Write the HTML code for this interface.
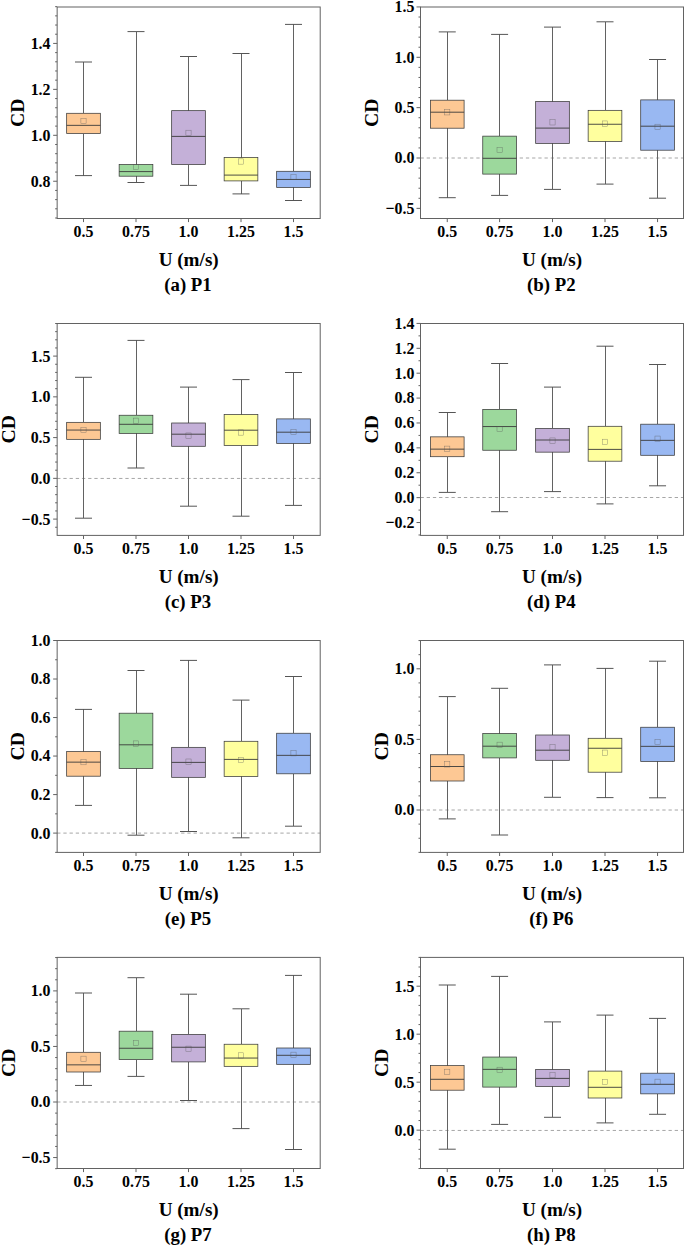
<!DOCTYPE html>
<html><head><meta charset="utf-8"><title>CD box plots</title>
<style>
html,body{margin:0;padding:0;background:#fff;}
svg{display:block;}
text{font-family:"Liberation Serif",serif;font-weight:bold;fill:#000;}
.tk{font-size:15.9px;}
.ax{font-size:19.15px;}
.cp{font-size:18.8px;}
.cd{font-size:18.9px;}
</style></head><body>
<svg width="685" height="1247" viewBox="0 0 685 1247">
<rect x="0" y="0" width="685" height="1247" fill="#ffffff"/>
<g>
<path d="M83.5 62V113.3M83.5 133.5V175.6" stroke="#626262" stroke-width="1" fill="none" shape-rendering="crispEdges"/>
<path d="M75 62H92M75 175.6H92" stroke="#555555" stroke-width="1" fill="none"/>
<rect x="66.65" y="113.3" width="33.7" height="20.2" fill="#FDC894" stroke="#3a3a3a" stroke-width="0.75"/>
<line x1="66.65" y1="125.35" x2="100.35" y2="125.35" stroke="#3a3a3a" stroke-width="0.9"/>
<rect x="80.9" y="118.4" width="5.2" height="5.3" fill="none" stroke="#555" stroke-opacity="0.7" stroke-width="0.45"/>
<path d="M136 31.6V164.5M136 176.2V182.5" stroke="#626262" stroke-width="1" fill="none" shape-rendering="crispEdges"/>
<path d="M127.5 31.6H144.5M127.5 182.5H144.5" stroke="#555555" stroke-width="1" fill="none"/>
<rect x="119.15" y="164.5" width="33.7" height="11.7" fill="#9CD89C" stroke="#3a3a3a" stroke-width="0.75"/>
<line x1="119.15" y1="171.6" x2="152.85" y2="171.6" stroke="#3a3a3a" stroke-width="0.9"/>
<rect x="133.4" y="164.35" width="5.2" height="5.3" fill="none" stroke="#555" stroke-opacity="0.7" stroke-width="0.45"/>
<path d="M188.5 56.5V110.65M188.5 164.5V185.4" stroke="#626262" stroke-width="1" fill="none" shape-rendering="crispEdges"/>
<path d="M180 56.5H197M180 185.4H197" stroke="#555555" stroke-width="1" fill="none"/>
<rect x="171.65" y="110.65" width="33.7" height="53.85" fill="#C4B0D8" stroke="#3a3a3a" stroke-width="0.75"/>
<line x1="171.65" y1="136.4" x2="205.35" y2="136.4" stroke="#3a3a3a" stroke-width="0.9"/>
<rect x="185.9" y="130.2" width="5.2" height="5.3" fill="none" stroke="#555" stroke-opacity="0.7" stroke-width="0.45"/>
<path d="M241 53.5V157.5M241 180.9V193.9" stroke="#626262" stroke-width="1" fill="none" shape-rendering="crispEdges"/>
<path d="M232.5 53.5H249.5M232.5 193.9H249.5" stroke="#555555" stroke-width="1" fill="none"/>
<rect x="224.15" y="157.5" width="33.7" height="23.4" fill="#FFFF9E" stroke="#3a3a3a" stroke-width="0.75"/>
<line x1="224.15" y1="175.1" x2="257.85" y2="175.1" stroke="#3a3a3a" stroke-width="0.9"/>
<rect x="238.4" y="158.85" width="5.2" height="5.3" fill="none" stroke="#555" stroke-opacity="0.7" stroke-width="0.45"/>
<path d="M293.5 24.4V171.3M293.5 187.4V200.5" stroke="#626262" stroke-width="1" fill="none" shape-rendering="crispEdges"/>
<path d="M285 24.4H302M285 200.5H302" stroke="#555555" stroke-width="1" fill="none"/>
<rect x="276.65" y="171.3" width="33.7" height="16.1" fill="#99B8F2" stroke="#3a3a3a" stroke-width="0.75"/>
<line x1="276.65" y1="179.45" x2="310.35" y2="179.45" stroke="#3a3a3a" stroke-width="0.9"/>
<rect x="290.9" y="174.45" width="5.2" height="5.3" fill="none" stroke="#555" stroke-opacity="0.7" stroke-width="0.45"/>
<rect x="57.15" y="7" width="263.05" height="211.5" fill="none" stroke="#626262" stroke-width="1"/>
<path d="M57.15 217.99h-2M57.15 208.8h-2M57.15 199.62h-2M57.15 190.43h-2M57.15 181.24h-4M57.15 172.05h-2M57.15 162.86h-2M57.15 153.68h-2M57.15 144.49h-2M57.15 135.3h-4M57.15 126.11h-2M57.15 116.92h-2M57.15 107.74h-2M57.15 98.55h-2M57.15 89.36h-4M57.15 80.17h-2M57.15 70.98h-2M57.15 61.8h-2M57.15 52.61h-2M57.15 43.42h-4M57.15 34.23h-2M57.15 25.04h-2M57.15 15.86h-2M57.15 6.67h-2" stroke="#626262" stroke-width="1" fill="none"/>
<path d="M83.5 218.5v3.6M136 218.5v3.6M188.5 218.5v3.6M241 218.5v3.6M293.5 218.5v3.6" stroke="#626262" stroke-width="1" fill="none"/>
<text class="tk" transform="translate(50.5 186.64) scale(1 1.07)" text-anchor="end">0.8</text>
<text class="tk" transform="translate(50.5 140.7) scale(1 1.07)" text-anchor="end">1.0</text>
<text class="tk" transform="translate(50.5 94.76) scale(1 1.07)" text-anchor="end">1.2</text>
<text class="tk" transform="translate(50.5 48.82) scale(1 1.07)" text-anchor="end">1.4</text>
<text class="tk" transform="translate(83.5 237.35) scale(1 1.07)" text-anchor="middle">0.5</text>
<text class="tk" transform="translate(136 237.35) scale(1 1.07)" text-anchor="middle">0.75</text>
<text class="tk" transform="translate(188.5 237.35) scale(1 1.07)" text-anchor="middle">1.0</text>
<text class="tk" transform="translate(241 237.35) scale(1 1.07)" text-anchor="middle">1.25</text>
<text class="tk" transform="translate(293.5 237.35) scale(1 1.07)" text-anchor="middle">1.5</text>
<text class="ax" transform="translate(188.67 266.3) scale(1 1.02)" text-anchor="middle">U (m/s)</text>
<text class="cp" transform="translate(187.97 291.3) scale(1 0.99)" text-anchor="middle">(a) P1</text>
<text class="cd" transform="translate(24.1 112.65) scale(1 1.045) rotate(-90)" text-anchor="middle">CD</text>
</g>
<g>
<line x1="420.5" y1="158" x2="683.5" y2="158" stroke="#a6a6a6" stroke-width="1" stroke-dasharray="3.3 2.9"/>
<path d="M447.25 31.9V100.2M447.25 128.2V197.7" stroke="#626262" stroke-width="1" fill="none" shape-rendering="crispEdges"/>
<path d="M438.75 31.9H455.75M438.75 197.7H455.75" stroke="#555555" stroke-width="1" fill="none"/>
<rect x="430.4" y="100.2" width="33.7" height="28" fill="#FDC894" stroke="#3a3a3a" stroke-width="0.75"/>
<line x1="430.4" y1="112.2" x2="464.1" y2="112.2" stroke="#3a3a3a" stroke-width="0.9"/>
<rect x="444.65" y="109.65" width="5.2" height="5.3" fill="none" stroke="#555" stroke-opacity="0.7" stroke-width="0.45"/>
<path d="M499.6 34.4V136.15M499.6 174.1V195.4" stroke="#626262" stroke-width="1" fill="none" shape-rendering="crispEdges"/>
<path d="M491.1 34.4H508.1M491.1 195.4H508.1" stroke="#555555" stroke-width="1" fill="none"/>
<rect x="482.75" y="136.15" width="33.7" height="37.95" fill="#9CD89C" stroke="#3a3a3a" stroke-width="0.75"/>
<line x1="482.75" y1="158.3" x2="516.45" y2="158.3" stroke="#3a3a3a" stroke-width="0.9"/>
<rect x="497" y="147.3" width="5.2" height="5.3" fill="none" stroke="#555" stroke-opacity="0.7" stroke-width="0.45"/>
<path d="M552.5 27.1V101.5M552.5 143.4V189.4" stroke="#626262" stroke-width="1" fill="none" shape-rendering="crispEdges"/>
<path d="M544 27.1H561M544 189.4H561" stroke="#555555" stroke-width="1" fill="none"/>
<rect x="535.65" y="101.5" width="33.7" height="41.9" fill="#C4B0D8" stroke="#3a3a3a" stroke-width="0.75"/>
<line x1="535.65" y1="128.1" x2="569.35" y2="128.1" stroke="#3a3a3a" stroke-width="0.9"/>
<rect x="549.9" y="119.7" width="5.2" height="5.3" fill="none" stroke="#555" stroke-opacity="0.7" stroke-width="0.45"/>
<path d="M605 21.8V110.35M605 141.4V184.1" stroke="#626262" stroke-width="1" fill="none" shape-rendering="crispEdges"/>
<path d="M596.5 21.8H613.5M596.5 184.1H613.5" stroke="#555555" stroke-width="1" fill="none"/>
<rect x="588.15" y="110.35" width="33.7" height="31.05" fill="#FFFF9E" stroke="#3a3a3a" stroke-width="0.75"/>
<line x1="588.15" y1="124.25" x2="621.85" y2="124.25" stroke="#3a3a3a" stroke-width="0.9"/>
<rect x="602.4" y="120.95" width="5.2" height="5.3" fill="none" stroke="#555" stroke-opacity="0.7" stroke-width="0.45"/>
<path d="M657.55 59.5V99.9M657.55 150.2V198.2" stroke="#626262" stroke-width="1" fill="none" shape-rendering="crispEdges"/>
<path d="M649.05 59.5H666.05M649.05 198.2H666.05" stroke="#555555" stroke-width="1" fill="none"/>
<rect x="640.7" y="99.9" width="33.7" height="50.3" fill="#99B8F2" stroke="#3a3a3a" stroke-width="0.75"/>
<line x1="640.7" y1="126.2" x2="674.4" y2="126.2" stroke="#3a3a3a" stroke-width="0.9"/>
<rect x="654.95" y="124.2" width="5.2" height="5.3" fill="none" stroke="#555" stroke-opacity="0.7" stroke-width="0.45"/>
<rect x="420.5" y="7" width="263" height="211.5" fill="none" stroke="#626262" stroke-width="1"/>
<path d="M420.5 208.35h-4M420.5 198.28h-2M420.5 188.21h-2M420.5 178.14h-2M420.5 168.07h-2M420.5 158h-4M420.5 147.93h-2M420.5 137.86h-2M420.5 127.79h-2M420.5 117.72h-2M420.5 107.65h-4M420.5 97.58h-2M420.5 87.51h-2M420.5 77.44h-2M420.5 67.37h-2M420.5 57.3h-4M420.5 47.23h-2M420.5 37.16h-2M420.5 27.09h-2M420.5 17.02h-2M420.5 6.95h-4" stroke="#626262" stroke-width="1" fill="none"/>
<path d="M447.25 218.5v3.6M499.6 218.5v3.6M552.5 218.5v3.6M605 218.5v3.6M657.55 218.5v3.6" stroke="#626262" stroke-width="1" fill="none"/>
<text class="tk" transform="translate(414.35 213.75) scale(1 1.07)" text-anchor="end">−0.5</text>
<text class="tk" transform="translate(414.35 163.4) scale(1 1.07)" text-anchor="end">0.0</text>
<text class="tk" transform="translate(414.35 113.05) scale(1 1.07)" text-anchor="end">0.5</text>
<text class="tk" transform="translate(414.35 62.7) scale(1 1.07)" text-anchor="end">1.0</text>
<text class="tk" transform="translate(414.35 12.35) scale(1 1.07)" text-anchor="end">1.5</text>
<text class="tk" transform="translate(447.25 237.35) scale(1 1.07)" text-anchor="middle">0.5</text>
<text class="tk" transform="translate(499.6 237.35) scale(1 1.07)" text-anchor="middle">0.75</text>
<text class="tk" transform="translate(552.5 237.35) scale(1 1.07)" text-anchor="middle">1.0</text>
<text class="tk" transform="translate(605 237.35) scale(1 1.07)" text-anchor="middle">1.25</text>
<text class="tk" transform="translate(657.55 237.35) scale(1 1.07)" text-anchor="middle">1.5</text>
<text class="ax" transform="translate(552 266.3) scale(1 1.02)" text-anchor="middle">U (m/s)</text>
<text class="cp" transform="translate(551.3 291.3) scale(1 0.99)" text-anchor="middle">(b) P2</text>
<text class="cd" transform="translate(378.3 112.65) scale(1 1.045) rotate(-90)" text-anchor="middle">CD</text>
</g>
<g>
<line x1="57.15" y1="478.45" x2="320.2" y2="478.45" stroke="#a6a6a6" stroke-width="1" stroke-dasharray="3.3 2.9"/>
<path d="M83.5 377.3V422.35M83.5 439.35V518.2" stroke="#626262" stroke-width="1" fill="none" shape-rendering="crispEdges"/>
<path d="M75 377.3H92M75 518.2H92" stroke="#555555" stroke-width="1" fill="none"/>
<rect x="66.65" y="422.35" width="33.7" height="17" fill="#FDC894" stroke="#3a3a3a" stroke-width="0.75"/>
<line x1="66.65" y1="430.05" x2="100.35" y2="430.05" stroke="#3a3a3a" stroke-width="0.9"/>
<rect x="80.9" y="427.35" width="5.2" height="5.3" fill="none" stroke="#555" stroke-opacity="0.7" stroke-width="0.45"/>
<path d="M136 340.4V415.25M136 433.4V468" stroke="#626262" stroke-width="1" fill="none" shape-rendering="crispEdges"/>
<path d="M127.5 340.4H144.5M127.5 468H144.5" stroke="#555555" stroke-width="1" fill="none"/>
<rect x="119.15" y="415.25" width="33.7" height="18.15" fill="#9CD89C" stroke="#3a3a3a" stroke-width="0.75"/>
<line x1="119.15" y1="424.3" x2="152.85" y2="424.3" stroke="#3a3a3a" stroke-width="0.9"/>
<rect x="133.4" y="418.1" width="5.2" height="5.3" fill="none" stroke="#555" stroke-opacity="0.7" stroke-width="0.45"/>
<path d="M188.5 387.1V423M188.5 446.3V506.2" stroke="#626262" stroke-width="1" fill="none" shape-rendering="crispEdges"/>
<path d="M180 387.1H197M180 506.2H197" stroke="#555555" stroke-width="1" fill="none"/>
<rect x="171.65" y="423" width="33.7" height="23.3" fill="#C4B0D8" stroke="#3a3a3a" stroke-width="0.75"/>
<line x1="171.65" y1="434.2" x2="205.35" y2="434.2" stroke="#3a3a3a" stroke-width="0.9"/>
<rect x="185.9" y="432.95" width="5.2" height="5.3" fill="none" stroke="#555" stroke-opacity="0.7" stroke-width="0.45"/>
<path d="M241 379.6V414.5M241 445.5V516.2" stroke="#626262" stroke-width="1" fill="none" shape-rendering="crispEdges"/>
<path d="M232.5 379.6H249.5M232.5 516.2H249.5" stroke="#555555" stroke-width="1" fill="none"/>
<rect x="224.15" y="414.5" width="33.7" height="31" fill="#FFFF9E" stroke="#3a3a3a" stroke-width="0.75"/>
<line x1="224.15" y1="430.2" x2="257.85" y2="430.2" stroke="#3a3a3a" stroke-width="0.9"/>
<rect x="238.4" y="429.85" width="5.2" height="5.3" fill="none" stroke="#555" stroke-opacity="0.7" stroke-width="0.45"/>
<path d="M293.5 372.5V418.9M293.5 443.45V505.4" stroke="#626262" stroke-width="1" fill="none" shape-rendering="crispEdges"/>
<path d="M285 372.5H302M285 505.4H302" stroke="#555555" stroke-width="1" fill="none"/>
<rect x="276.65" y="418.9" width="33.7" height="24.55" fill="#99B8F2" stroke="#3a3a3a" stroke-width="0.75"/>
<line x1="276.65" y1="432.2" x2="310.35" y2="432.2" stroke="#3a3a3a" stroke-width="0.9"/>
<rect x="290.9" y="429.35" width="5.2" height="5.3" fill="none" stroke="#555" stroke-opacity="0.7" stroke-width="0.45"/>
<rect x="57.15" y="323.5" width="263.05" height="211.9" fill="none" stroke="#626262" stroke-width="1"/>
<path d="M57.15 527.25h-2M57.15 519.1h-4M57.15 510.95h-2M57.15 502.8h-2M57.15 494.65h-2M57.15 486.5h-2M57.15 478.35h-4M57.15 470.2h-2M57.15 462.05h-2M57.15 453.9h-2M57.15 445.75h-2M57.15 437.6h-4M57.15 429.45h-2M57.15 421.3h-2M57.15 413.15h-2M57.15 405h-2M57.15 396.85h-4M57.15 388.7h-2M57.15 380.55h-2M57.15 372.4h-2M57.15 364.25h-2M57.15 356.1h-4M57.15 347.95h-2M57.15 339.8h-2M57.15 331.65h-2M57.15 323.5h-2" stroke="#626262" stroke-width="1" fill="none"/>
<path d="M83.5 535.4v3.6M136 535.4v3.6M188.5 535.4v3.6M241 535.4v3.6M293.5 535.4v3.6" stroke="#626262" stroke-width="1" fill="none"/>
<text class="tk" transform="translate(50.5 524.5) scale(1 1.07)" text-anchor="end">−0.5</text>
<text class="tk" transform="translate(50.5 483.75) scale(1 1.07)" text-anchor="end">0.0</text>
<text class="tk" transform="translate(50.5 443) scale(1 1.07)" text-anchor="end">0.5</text>
<text class="tk" transform="translate(50.5 402.25) scale(1 1.07)" text-anchor="end">1.0</text>
<text class="tk" transform="translate(50.5 361.5) scale(1 1.07)" text-anchor="end">1.5</text>
<text class="tk" transform="translate(83.5 554.25) scale(1 1.07)" text-anchor="middle">0.5</text>
<text class="tk" transform="translate(136 554.25) scale(1 1.07)" text-anchor="middle">0.75</text>
<text class="tk" transform="translate(188.5 554.25) scale(1 1.07)" text-anchor="middle">1.0</text>
<text class="tk" transform="translate(241 554.25) scale(1 1.07)" text-anchor="middle">1.25</text>
<text class="tk" transform="translate(293.5 554.25) scale(1 1.07)" text-anchor="middle">1.5</text>
<text class="ax" transform="translate(188.67 583.2) scale(1 1.02)" text-anchor="middle">U (m/s)</text>
<text class="cp" transform="translate(187.97 608.2) scale(1 0.99)" text-anchor="middle">(c) P3</text>
<text class="cd" transform="translate(14.7 429.35) scale(1 1.045) rotate(-90)" text-anchor="middle">CD</text>
</g>
<g>
<line x1="420.5" y1="497.5" x2="683.5" y2="497.5" stroke="#a6a6a6" stroke-width="1" stroke-dasharray="3.3 2.9"/>
<path d="M447.25 412.5V436.85M447.25 456.7V492.4" stroke="#626262" stroke-width="1" fill="none" shape-rendering="crispEdges"/>
<path d="M438.75 412.5H455.75M438.75 492.4H455.75" stroke="#555555" stroke-width="1" fill="none"/>
<rect x="430.4" y="436.85" width="33.7" height="19.85" fill="#FDC894" stroke="#3a3a3a" stroke-width="0.75"/>
<line x1="430.4" y1="449.15" x2="464.1" y2="449.15" stroke="#3a3a3a" stroke-width="0.9"/>
<rect x="444.65" y="446.1" width="5.2" height="5.3" fill="none" stroke="#555" stroke-opacity="0.7" stroke-width="0.45"/>
<path d="M499.6 363.5V409.4M499.6 450.25V511.7" stroke="#626262" stroke-width="1" fill="none" shape-rendering="crispEdges"/>
<path d="M491.1 363.5H508.1M491.1 511.7H508.1" stroke="#555555" stroke-width="1" fill="none"/>
<rect x="482.75" y="409.4" width="33.7" height="40.85" fill="#9CD89C" stroke="#3a3a3a" stroke-width="0.75"/>
<line x1="482.75" y1="426.55" x2="516.45" y2="426.55" stroke="#3a3a3a" stroke-width="0.9"/>
<rect x="497" y="426.4" width="5.2" height="5.3" fill="none" stroke="#555" stroke-opacity="0.7" stroke-width="0.45"/>
<path d="M552.5 387.1V428.45M552.5 452.15V491.6" stroke="#626262" stroke-width="1" fill="none" shape-rendering="crispEdges"/>
<path d="M544 387.1H561M544 491.6H561" stroke="#555555" stroke-width="1" fill="none"/>
<rect x="535.65" y="428.45" width="33.7" height="23.7" fill="#C4B0D8" stroke="#3a3a3a" stroke-width="0.75"/>
<line x1="535.65" y1="440" x2="569.35" y2="440" stroke="#3a3a3a" stroke-width="0.9"/>
<rect x="549.9" y="437.95" width="5.2" height="5.3" fill="none" stroke="#555" stroke-opacity="0.7" stroke-width="0.45"/>
<path d="M605 346.2V426.3M605 461.2V503.9" stroke="#626262" stroke-width="1" fill="none" shape-rendering="crispEdges"/>
<path d="M596.5 346.2H613.5M596.5 503.9H613.5" stroke="#555555" stroke-width="1" fill="none"/>
<rect x="588.15" y="426.3" width="33.7" height="34.9" fill="#FFFF9E" stroke="#3a3a3a" stroke-width="0.75"/>
<line x1="588.15" y1="449.4" x2="621.85" y2="449.4" stroke="#3a3a3a" stroke-width="0.9"/>
<rect x="602.4" y="439.2" width="5.2" height="5.3" fill="none" stroke="#555" stroke-opacity="0.7" stroke-width="0.45"/>
<path d="M657.55 364.5V424.2M657.55 455.3V485.8" stroke="#626262" stroke-width="1" fill="none" shape-rendering="crispEdges"/>
<path d="M649.05 364.5H666.05M649.05 485.8H666.05" stroke="#555555" stroke-width="1" fill="none"/>
<rect x="640.7" y="424.2" width="33.7" height="31.1" fill="#99B8F2" stroke="#3a3a3a" stroke-width="0.75"/>
<line x1="640.7" y1="440.35" x2="674.4" y2="440.35" stroke="#3a3a3a" stroke-width="0.9"/>
<rect x="654.95" y="436.05" width="5.2" height="5.3" fill="none" stroke="#555" stroke-opacity="0.7" stroke-width="0.45"/>
<rect x="420.5" y="323.5" width="263" height="211.9" fill="none" stroke="#626262" stroke-width="1"/>
<path d="M420.5 534.99h-2M420.5 522.54h-4M420.5 510.09h-2M420.5 497.65h-4M420.5 485.2h-2M420.5 472.76h-4M420.5 460.31h-2M420.5 447.87h-4M420.5 435.42h-2M420.5 422.98h-4M420.5 410.53h-2M420.5 398.09h-4M420.5 385.64h-2M420.5 373.2h-4M420.5 360.75h-2M420.5 348.31h-4M420.5 335.87h-2M420.5 323.42h-4" stroke="#626262" stroke-width="1" fill="none"/>
<path d="M447.25 535.4v3.6M499.6 535.4v3.6M552.5 535.4v3.6M605 535.4v3.6M657.55 535.4v3.6" stroke="#626262" stroke-width="1" fill="none"/>
<text class="tk" transform="translate(414.35 527.94) scale(1 1.07)" text-anchor="end">−0.2</text>
<text class="tk" transform="translate(414.35 503.05) scale(1 1.07)" text-anchor="end">0.0</text>
<text class="tk" transform="translate(414.35 478.16) scale(1 1.07)" text-anchor="end">0.2</text>
<text class="tk" transform="translate(414.35 453.27) scale(1 1.07)" text-anchor="end">0.4</text>
<text class="tk" transform="translate(414.35 428.38) scale(1 1.07)" text-anchor="end">0.6</text>
<text class="tk" transform="translate(414.35 403.49) scale(1 1.07)" text-anchor="end">0.8</text>
<text class="tk" transform="translate(414.35 378.6) scale(1 1.07)" text-anchor="end">1.0</text>
<text class="tk" transform="translate(414.35 353.71) scale(1 1.07)" text-anchor="end">1.2</text>
<text class="tk" transform="translate(414.35 328.82) scale(1 1.07)" text-anchor="end">1.4</text>
<text class="tk" transform="translate(447.25 554.25) scale(1 1.07)" text-anchor="middle">0.5</text>
<text class="tk" transform="translate(499.6 554.25) scale(1 1.07)" text-anchor="middle">0.75</text>
<text class="tk" transform="translate(552.5 554.25) scale(1 1.07)" text-anchor="middle">1.0</text>
<text class="tk" transform="translate(605 554.25) scale(1 1.07)" text-anchor="middle">1.25</text>
<text class="tk" transform="translate(657.55 554.25) scale(1 1.07)" text-anchor="middle">1.5</text>
<text class="ax" transform="translate(552 583.2) scale(1 1.02)" text-anchor="middle">U (m/s)</text>
<text class="cp" transform="translate(551.3 608.2) scale(1 0.99)" text-anchor="middle">(d) P4</text>
<text class="cd" transform="translate(378.3 429.35) scale(1 1.045) rotate(-90)" text-anchor="middle">CD</text>
</g>
<g>
<line x1="57.15" y1="833.1" x2="320.2" y2="833.1" stroke="#a6a6a6" stroke-width="1" stroke-dasharray="3.3 2.9"/>
<path d="M83.5 709.4V751.5M83.5 776.2V805.4" stroke="#626262" stroke-width="1" fill="none" shape-rendering="crispEdges"/>
<path d="M75 709.4H92M75 805.4H92" stroke="#555555" stroke-width="1" fill="none"/>
<rect x="66.65" y="751.5" width="33.7" height="24.7" fill="#FDC894" stroke="#3a3a3a" stroke-width="0.75"/>
<line x1="66.65" y1="762.15" x2="100.35" y2="762.15" stroke="#3a3a3a" stroke-width="0.9"/>
<rect x="80.9" y="759.5" width="5.2" height="5.3" fill="none" stroke="#555" stroke-opacity="0.7" stroke-width="0.45"/>
<path d="M136 670.5V713.2M136 768.4V835.2" stroke="#626262" stroke-width="1" fill="none" shape-rendering="crispEdges"/>
<path d="M127.5 670.5H144.5M127.5 835.2H144.5" stroke="#555555" stroke-width="1" fill="none"/>
<rect x="119.15" y="713.2" width="33.7" height="55.2" fill="#9CD89C" stroke="#3a3a3a" stroke-width="0.75"/>
<line x1="119.15" y1="744.8" x2="152.85" y2="744.8" stroke="#3a3a3a" stroke-width="0.9"/>
<rect x="133.4" y="740.9" width="5.2" height="5.3" fill="none" stroke="#555" stroke-opacity="0.7" stroke-width="0.45"/>
<path d="M188.5 660.4V747.35M188.5 777.35V831.5" stroke="#626262" stroke-width="1" fill="none" shape-rendering="crispEdges"/>
<path d="M180 660.4H197M180 831.5H197" stroke="#555555" stroke-width="1" fill="none"/>
<rect x="171.65" y="747.35" width="33.7" height="30" fill="#C4B0D8" stroke="#3a3a3a" stroke-width="0.75"/>
<line x1="171.65" y1="762.4" x2="205.35" y2="762.4" stroke="#3a3a3a" stroke-width="0.9"/>
<rect x="185.9" y="759" width="5.2" height="5.3" fill="none" stroke="#555" stroke-opacity="0.7" stroke-width="0.45"/>
<path d="M241 700.1V741.3M241 776.45V837.8" stroke="#626262" stroke-width="1" fill="none" shape-rendering="crispEdges"/>
<path d="M232.5 700.1H249.5M232.5 837.8H249.5" stroke="#555555" stroke-width="1" fill="none"/>
<rect x="224.15" y="741.3" width="33.7" height="35.15" fill="#FFFF9E" stroke="#3a3a3a" stroke-width="0.75"/>
<line x1="224.15" y1="759.4" x2="257.85" y2="759.4" stroke="#3a3a3a" stroke-width="0.9"/>
<rect x="238.4" y="757.25" width="5.2" height="5.3" fill="none" stroke="#555" stroke-opacity="0.7" stroke-width="0.45"/>
<path d="M293.5 676.5V733.25M293.5 773.8V826.2" stroke="#626262" stroke-width="1" fill="none" shape-rendering="crispEdges"/>
<path d="M285 676.5H302M285 826.2H302" stroke="#555555" stroke-width="1" fill="none"/>
<rect x="276.65" y="733.25" width="33.7" height="40.55" fill="#99B8F2" stroke="#3a3a3a" stroke-width="0.75"/>
<line x1="276.65" y1="755.35" x2="310.35" y2="755.35" stroke="#3a3a3a" stroke-width="0.9"/>
<rect x="290.9" y="750.6" width="5.2" height="5.3" fill="none" stroke="#555" stroke-opacity="0.7" stroke-width="0.45"/>
<rect x="57.15" y="640.5" width="263.05" height="211.9" fill="none" stroke="#626262" stroke-width="1"/>
<path d="M57.15 852.36h-2M57.15 833.1h-4M57.15 813.84h-2M57.15 794.58h-4M57.15 775.32h-2M57.15 756.06h-4M57.15 736.8h-2M57.15 717.54h-4M57.15 698.28h-2M57.15 679.02h-4M57.15 659.76h-2M57.15 640.5h-4" stroke="#626262" stroke-width="1" fill="none"/>
<path d="M83.5 852.4v3.6M136 852.4v3.6M188.5 852.4v3.6M241 852.4v3.6M293.5 852.4v3.6" stroke="#626262" stroke-width="1" fill="none"/>
<text class="tk" transform="translate(50.5 838.5) scale(1 1.07)" text-anchor="end">0.0</text>
<text class="tk" transform="translate(50.5 799.98) scale(1 1.07)" text-anchor="end">0.2</text>
<text class="tk" transform="translate(50.5 761.46) scale(1 1.07)" text-anchor="end">0.4</text>
<text class="tk" transform="translate(50.5 722.94) scale(1 1.07)" text-anchor="end">0.6</text>
<text class="tk" transform="translate(50.5 684.42) scale(1 1.07)" text-anchor="end">0.8</text>
<text class="tk" transform="translate(50.5 645.9) scale(1 1.07)" text-anchor="end">1.0</text>
<text class="tk" transform="translate(83.5 871.25) scale(1 1.07)" text-anchor="middle">0.5</text>
<text class="tk" transform="translate(136 871.25) scale(1 1.07)" text-anchor="middle">0.75</text>
<text class="tk" transform="translate(188.5 871.25) scale(1 1.07)" text-anchor="middle">1.0</text>
<text class="tk" transform="translate(241 871.25) scale(1 1.07)" text-anchor="middle">1.25</text>
<text class="tk" transform="translate(293.5 871.25) scale(1 1.07)" text-anchor="middle">1.5</text>
<text class="ax" transform="translate(188.67 900.2) scale(1 1.02)" text-anchor="middle">U (m/s)</text>
<text class="cp" transform="translate(187.97 925.2) scale(1 0.99)" text-anchor="middle">(e) P5</text>
<text class="cd" transform="translate(24.1 746.35) scale(1 1.045) rotate(-90)" text-anchor="middle">CD</text>
</g>
<g>
<line x1="420.5" y1="810" x2="683.5" y2="810" stroke="#a6a6a6" stroke-width="1" stroke-dasharray="3.3 2.9"/>
<path d="M447.25 696.6V754.75M447.25 781V818.9" stroke="#626262" stroke-width="1" fill="none" shape-rendering="crispEdges"/>
<path d="M438.75 696.6H455.75M438.75 818.9H455.75" stroke="#555555" stroke-width="1" fill="none"/>
<rect x="430.4" y="754.75" width="33.7" height="26.25" fill="#FDC894" stroke="#3a3a3a" stroke-width="0.75"/>
<line x1="430.4" y1="766.5" x2="464.1" y2="766.5" stroke="#3a3a3a" stroke-width="0.9"/>
<rect x="444.65" y="761.75" width="5.2" height="5.3" fill="none" stroke="#555" stroke-opacity="0.7" stroke-width="0.45"/>
<path d="M499.6 688.3V733.5M499.6 757.9V835" stroke="#626262" stroke-width="1" fill="none" shape-rendering="crispEdges"/>
<path d="M491.1 688.3H508.1M491.1 835H508.1" stroke="#555555" stroke-width="1" fill="none"/>
<rect x="482.75" y="733.5" width="33.7" height="24.4" fill="#9CD89C" stroke="#3a3a3a" stroke-width="0.75"/>
<line x1="482.75" y1="746.2" x2="516.45" y2="746.2" stroke="#3a3a3a" stroke-width="0.9"/>
<rect x="497" y="742.15" width="5.2" height="5.3" fill="none" stroke="#555" stroke-opacity="0.7" stroke-width="0.45"/>
<path d="M552.5 664.9V735M552.5 760.3V797.3" stroke="#626262" stroke-width="1" fill="none" shape-rendering="crispEdges"/>
<path d="M544 664.9H561M544 797.3H561" stroke="#555555" stroke-width="1" fill="none"/>
<rect x="535.65" y="735" width="33.7" height="25.3" fill="#C4B0D8" stroke="#3a3a3a" stroke-width="0.75"/>
<line x1="535.65" y1="750.2" x2="569.35" y2="750.2" stroke="#3a3a3a" stroke-width="0.9"/>
<rect x="549.9" y="744.7" width="5.2" height="5.3" fill="none" stroke="#555" stroke-opacity="0.7" stroke-width="0.45"/>
<path d="M605 668.4V738.3M605 772.2V797.6" stroke="#626262" stroke-width="1" fill="none" shape-rendering="crispEdges"/>
<path d="M596.5 668.4H613.5M596.5 797.6H613.5" stroke="#555555" stroke-width="1" fill="none"/>
<rect x="588.15" y="738.3" width="33.7" height="33.9" fill="#FFFF9E" stroke="#3a3a3a" stroke-width="0.75"/>
<line x1="588.15" y1="748.25" x2="621.85" y2="748.25" stroke="#3a3a3a" stroke-width="0.9"/>
<rect x="602.4" y="750.05" width="5.2" height="5.3" fill="none" stroke="#555" stroke-opacity="0.7" stroke-width="0.45"/>
<path d="M657.55 661.2V727.25M657.55 761.4V797.8" stroke="#626262" stroke-width="1" fill="none" shape-rendering="crispEdges"/>
<path d="M649.05 661.2H666.05M649.05 797.8H666.05" stroke="#555555" stroke-width="1" fill="none"/>
<rect x="640.7" y="727.25" width="33.7" height="34.15" fill="#99B8F2" stroke="#3a3a3a" stroke-width="0.75"/>
<line x1="640.7" y1="746.35" x2="674.4" y2="746.35" stroke="#3a3a3a" stroke-width="0.9"/>
<rect x="654.95" y="739.4" width="5.2" height="5.3" fill="none" stroke="#555" stroke-opacity="0.7" stroke-width="0.45"/>
<rect x="420.5" y="640.5" width="263" height="211.9" fill="none" stroke="#626262" stroke-width="1"/>
<path d="M420.5 852.36h-2M420.5 838.24h-2M420.5 824.12h-2M420.5 810h-4M420.5 795.88h-2M420.5 781.76h-2M420.5 767.64h-2M420.5 753.52h-2M420.5 739.4h-4M420.5 725.28h-2M420.5 711.16h-2M420.5 697.04h-2M420.5 682.92h-2M420.5 668.8h-4M420.5 654.68h-2M420.5 640.56h-2" stroke="#626262" stroke-width="1" fill="none"/>
<path d="M447.25 852.4v3.6M499.6 852.4v3.6M552.5 852.4v3.6M605 852.4v3.6M657.55 852.4v3.6" stroke="#626262" stroke-width="1" fill="none"/>
<text class="tk" transform="translate(414.35 815.4) scale(1 1.07)" text-anchor="end">0.0</text>
<text class="tk" transform="translate(414.35 744.8) scale(1 1.07)" text-anchor="end">0.5</text>
<text class="tk" transform="translate(414.35 674.2) scale(1 1.07)" text-anchor="end">1.0</text>
<text class="tk" transform="translate(447.25 871.25) scale(1 1.07)" text-anchor="middle">0.5</text>
<text class="tk" transform="translate(499.6 871.25) scale(1 1.07)" text-anchor="middle">0.75</text>
<text class="tk" transform="translate(552.5 871.25) scale(1 1.07)" text-anchor="middle">1.0</text>
<text class="tk" transform="translate(605 871.25) scale(1 1.07)" text-anchor="middle">1.25</text>
<text class="tk" transform="translate(657.55 871.25) scale(1 1.07)" text-anchor="middle">1.5</text>
<text class="ax" transform="translate(552 900.2) scale(1 1.02)" text-anchor="middle">U (m/s)</text>
<text class="cp" transform="translate(551.3 925.2) scale(1 0.99)" text-anchor="middle">(f) P6</text>
<text class="cd" transform="translate(387.7 746.35) scale(1 1.045) rotate(-90)" text-anchor="middle">CD</text>
</g>
<g>
<line x1="57.15" y1="1102" x2="320.2" y2="1102" stroke="#a6a6a6" stroke-width="1" stroke-dasharray="3.3 2.9"/>
<path d="M83.5 993V1052.3M83.5 1072V1085.45" stroke="#626262" stroke-width="1" fill="none" shape-rendering="crispEdges"/>
<path d="M75 993H92M75 1085.45H92" stroke="#555555" stroke-width="1" fill="none"/>
<rect x="66.65" y="1052.3" width="33.7" height="19.7" fill="#FDC894" stroke="#3a3a3a" stroke-width="0.75"/>
<line x1="66.65" y1="1064.85" x2="100.35" y2="1064.85" stroke="#3a3a3a" stroke-width="0.9"/>
<rect x="80.9" y="1056.15" width="5.2" height="5.3" fill="none" stroke="#555" stroke-opacity="0.7" stroke-width="0.45"/>
<path d="M136 977.7V1031.2M136 1059.55V1076.4" stroke="#626262" stroke-width="1" fill="none" shape-rendering="crispEdges"/>
<path d="M127.5 977.7H144.5M127.5 1076.4H144.5" stroke="#555555" stroke-width="1" fill="none"/>
<rect x="119.15" y="1031.2" width="33.7" height="28.35" fill="#9CD89C" stroke="#3a3a3a" stroke-width="0.75"/>
<line x1="119.15" y1="1048.25" x2="152.85" y2="1048.25" stroke="#3a3a3a" stroke-width="0.9"/>
<rect x="133.4" y="1040.35" width="5.2" height="5.3" fill="none" stroke="#555" stroke-opacity="0.7" stroke-width="0.45"/>
<path d="M188.5 994.2V1034.4M188.5 1061.9V1100.5" stroke="#626262" stroke-width="1" fill="none" shape-rendering="crispEdges"/>
<path d="M180 994.2H197M180 1100.5H197" stroke="#555555" stroke-width="1" fill="none"/>
<rect x="171.65" y="1034.4" width="33.7" height="27.5" fill="#C4B0D8" stroke="#3a3a3a" stroke-width="0.75"/>
<line x1="171.65" y1="1047.25" x2="205.35" y2="1047.25" stroke="#3a3a3a" stroke-width="0.9"/>
<rect x="185.9" y="1046.1" width="5.2" height="5.3" fill="none" stroke="#555" stroke-opacity="0.7" stroke-width="0.45"/>
<path d="M241 1008.8V1044.25M241 1066.35V1128.6" stroke="#626262" stroke-width="1" fill="none" shape-rendering="crispEdges"/>
<path d="M232.5 1008.8H249.5M232.5 1128.6H249.5" stroke="#555555" stroke-width="1" fill="none"/>
<rect x="224.15" y="1044.25" width="33.7" height="22.1" fill="#FFFF9E" stroke="#3a3a3a" stroke-width="0.75"/>
<line x1="224.15" y1="1058.05" x2="257.85" y2="1058.05" stroke="#3a3a3a" stroke-width="0.9"/>
<rect x="238.4" y="1052.8" width="5.2" height="5.3" fill="none" stroke="#555" stroke-opacity="0.7" stroke-width="0.45"/>
<path d="M293.5 975.4V1048M293.5 1064.35V1149.5" stroke="#626262" stroke-width="1" fill="none" shape-rendering="crispEdges"/>
<path d="M285 975.4H302M285 1149.5H302" stroke="#555555" stroke-width="1" fill="none"/>
<rect x="276.65" y="1048" width="33.7" height="16.35" fill="#99B8F2" stroke="#3a3a3a" stroke-width="0.75"/>
<line x1="276.65" y1="1055.3" x2="310.35" y2="1055.3" stroke="#3a3a3a" stroke-width="0.9"/>
<rect x="290.9" y="1052.15" width="5.2" height="5.3" fill="none" stroke="#555" stroke-opacity="0.7" stroke-width="0.45"/>
<rect x="57.15" y="957.4" width="263.05" height="211.1" fill="none" stroke="#626262" stroke-width="1"/>
<path d="M57.15 1168.66h-2M57.15 1157.55h-4M57.15 1146.44h-2M57.15 1135.33h-2M57.15 1124.22h-2M57.15 1113.11h-2M57.15 1102h-4M57.15 1090.89h-2M57.15 1079.78h-2M57.15 1068.67h-2M57.15 1057.56h-2M57.15 1046.45h-4M57.15 1035.34h-2M57.15 1024.23h-2M57.15 1013.12h-2M57.15 1002.01h-2M57.15 990.9h-4M57.15 979.79h-2M57.15 968.68h-2M57.15 957.57h-2" stroke="#626262" stroke-width="1" fill="none"/>
<path d="M83.5 1168.5v3.6M136 1168.5v3.6M188.5 1168.5v3.6M241 1168.5v3.6M293.5 1168.5v3.6" stroke="#626262" stroke-width="1" fill="none"/>
<text class="tk" transform="translate(50.5 1162.95) scale(1 1.07)" text-anchor="end">−0.5</text>
<text class="tk" transform="translate(50.5 1107.4) scale(1 1.07)" text-anchor="end">0.0</text>
<text class="tk" transform="translate(50.5 1051.85) scale(1 1.07)" text-anchor="end">0.5</text>
<text class="tk" transform="translate(50.5 996.3) scale(1 1.07)" text-anchor="end">1.0</text>
<text class="tk" transform="translate(83.5 1187.35) scale(1 1.07)" text-anchor="middle">0.5</text>
<text class="tk" transform="translate(136 1187.35) scale(1 1.07)" text-anchor="middle">0.75</text>
<text class="tk" transform="translate(188.5 1187.35) scale(1 1.07)" text-anchor="middle">1.0</text>
<text class="tk" transform="translate(241 1187.35) scale(1 1.07)" text-anchor="middle">1.25</text>
<text class="tk" transform="translate(293.5 1187.35) scale(1 1.07)" text-anchor="middle">1.5</text>
<text class="ax" transform="translate(188.67 1216.3) scale(1 1.02)" text-anchor="middle">U (m/s)</text>
<text class="cp" transform="translate(187.97 1241.3) scale(1 0.99)" text-anchor="middle">(g) P7</text>
<text class="cd" transform="translate(14.7 1062.85) scale(1 1.045) rotate(-90)" text-anchor="middle">CD</text>
</g>
<g>
<line x1="420.5" y1="1130.45" x2="683.5" y2="1130.45" stroke="#a6a6a6" stroke-width="1" stroke-dasharray="3.3 2.9"/>
<path d="M447.25 985V1065.6M447.25 1090.2V1149.2" stroke="#626262" stroke-width="1" fill="none" shape-rendering="crispEdges"/>
<path d="M438.75 985H455.75M438.75 1149.2H455.75" stroke="#555555" stroke-width="1" fill="none"/>
<rect x="430.4" y="1065.6" width="33.7" height="24.6" fill="#FDC894" stroke="#3a3a3a" stroke-width="0.75"/>
<line x1="430.4" y1="1079.3" x2="464.1" y2="1079.3" stroke="#3a3a3a" stroke-width="0.9"/>
<rect x="444.65" y="1069.2" width="5.2" height="5.3" fill="none" stroke="#555" stroke-opacity="0.7" stroke-width="0.45"/>
<path d="M499.6 976.4V1057.05M499.6 1087.1V1124.4" stroke="#626262" stroke-width="1" fill="none" shape-rendering="crispEdges"/>
<path d="M491.1 976.4H508.1M491.1 1124.4H508.1" stroke="#555555" stroke-width="1" fill="none"/>
<rect x="482.75" y="1057.05" width="33.7" height="30.05" fill="#9CD89C" stroke="#3a3a3a" stroke-width="0.75"/>
<line x1="482.75" y1="1069.35" x2="516.45" y2="1069.35" stroke="#3a3a3a" stroke-width="0.9"/>
<rect x="497" y="1067.2" width="5.2" height="5.3" fill="none" stroke="#555" stroke-opacity="0.7" stroke-width="0.45"/>
<path d="M552.5 1021.9V1069.5M552.5 1086.45V1117.3" stroke="#626262" stroke-width="1" fill="none" shape-rendering="crispEdges"/>
<path d="M544 1021.9H561M544 1117.3H561" stroke="#555555" stroke-width="1" fill="none"/>
<rect x="535.65" y="1069.5" width="33.7" height="16.95" fill="#C4B0D8" stroke="#3a3a3a" stroke-width="0.75"/>
<line x1="535.65" y1="1078.4" x2="569.35" y2="1078.4" stroke="#3a3a3a" stroke-width="0.9"/>
<rect x="549.9" y="1072.5" width="5.2" height="5.3" fill="none" stroke="#555" stroke-opacity="0.7" stroke-width="0.45"/>
<path d="M605 1015.1V1071.1M605 1098V1122.9" stroke="#626262" stroke-width="1" fill="none" shape-rendering="crispEdges"/>
<path d="M596.5 1015.1H613.5M596.5 1122.9H613.5" stroke="#555555" stroke-width="1" fill="none"/>
<rect x="588.15" y="1071.1" width="33.7" height="26.9" fill="#FFFF9E" stroke="#3a3a3a" stroke-width="0.75"/>
<line x1="588.15" y1="1087.3" x2="621.85" y2="1087.3" stroke="#3a3a3a" stroke-width="0.9"/>
<rect x="602.4" y="1079.25" width="5.2" height="5.3" fill="none" stroke="#555" stroke-opacity="0.7" stroke-width="0.45"/>
<path d="M657.55 1018.4V1073.2M657.55 1093.85V1114.3" stroke="#626262" stroke-width="1" fill="none" shape-rendering="crispEdges"/>
<path d="M649.05 1018.4H666.05M649.05 1114.3H666.05" stroke="#555555" stroke-width="1" fill="none"/>
<rect x="640.7" y="1073.2" width="33.7" height="20.65" fill="#99B8F2" stroke="#3a3a3a" stroke-width="0.75"/>
<line x1="640.7" y1="1084.3" x2="674.4" y2="1084.3" stroke="#3a3a3a" stroke-width="0.9"/>
<rect x="654.95" y="1079.15" width="5.2" height="5.3" fill="none" stroke="#555" stroke-opacity="0.7" stroke-width="0.45"/>
<rect x="420.5" y="957.4" width="263" height="211.1" fill="none" stroke="#626262" stroke-width="1"/>
<path d="M420.5 1168.54h-2M420.5 1158.94h-2M420.5 1149.34h-2M420.5 1139.75h-2M420.5 1130.15h-4M420.5 1120.55h-2M420.5 1110.96h-2M420.5 1101.36h-2M420.5 1091.76h-2M420.5 1082.17h-4M420.5 1072.57h-2M420.5 1062.97h-2M420.5 1053.37h-2M420.5 1043.78h-2M420.5 1034.18h-4M420.5 1024.58h-2M420.5 1014.99h-2M420.5 1005.39h-2M420.5 995.79h-2M420.5 986.2h-4M420.5 976.6h-2M420.5 967h-2M420.5 957.4h-2" stroke="#626262" stroke-width="1" fill="none"/>
<path d="M447.25 1168.5v3.6M499.6 1168.5v3.6M552.5 1168.5v3.6M605 1168.5v3.6M657.55 1168.5v3.6" stroke="#626262" stroke-width="1" fill="none"/>
<text class="tk" transform="translate(414.35 1135.55) scale(1 1.07)" text-anchor="end">0.0</text>
<text class="tk" transform="translate(414.35 1087.57) scale(1 1.07)" text-anchor="end">0.5</text>
<text class="tk" transform="translate(414.35 1039.58) scale(1 1.07)" text-anchor="end">1.0</text>
<text class="tk" transform="translate(414.35 991.6) scale(1 1.07)" text-anchor="end">1.5</text>
<text class="tk" transform="translate(447.25 1187.35) scale(1 1.07)" text-anchor="middle">0.5</text>
<text class="tk" transform="translate(499.6 1187.35) scale(1 1.07)" text-anchor="middle">0.75</text>
<text class="tk" transform="translate(552.5 1187.35) scale(1 1.07)" text-anchor="middle">1.0</text>
<text class="tk" transform="translate(605 1187.35) scale(1 1.07)" text-anchor="middle">1.25</text>
<text class="tk" transform="translate(657.55 1187.35) scale(1 1.07)" text-anchor="middle">1.5</text>
<text class="ax" transform="translate(552 1216.3) scale(1 1.02)" text-anchor="middle">U (m/s)</text>
<text class="cp" transform="translate(551.3 1241.3) scale(1 0.99)" text-anchor="middle">(h) P8</text>
<text class="cd" transform="translate(387.7 1062.85) scale(1 1.045) rotate(-90)" text-anchor="middle">CD</text>
</g>
</svg>
</body></html>
